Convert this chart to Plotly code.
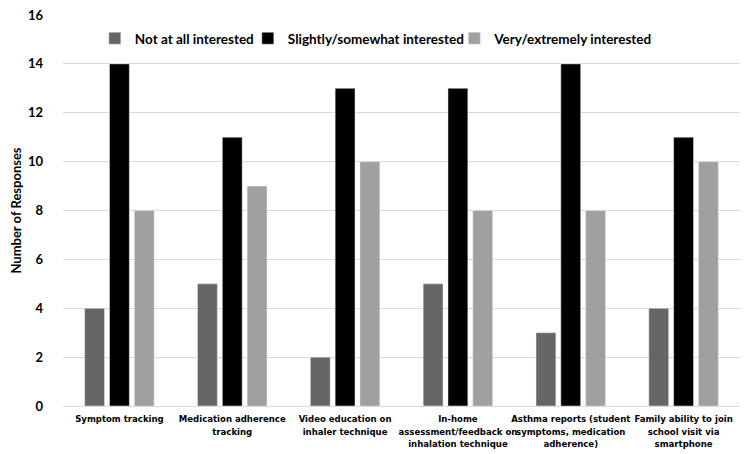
import plotly.graph_objects as go

categories = [
    "Symptom tracking",
    "Medication adherence<br>tracking",
    "Video education on<br>inhaler technique",
    "In-home<br>assessment/feedback on<br>inhalation technique",
    "Asthma reports (student<br>symptoms, medication<br>adherence)",
    "Family ability to join<br>school visit via<br>smartphone",
]
not_at_all = [4, 5, 2, 5, 3, 4]
slightly = [14, 11, 13, 13, 14, 11]
very = [8, 9, 10, 8, 8, 10]

series = [
    ("Not at all interested", not_at_all, "#666666", "legend", 0.047),
    ("Slightly/somewhat interested", slightly, "#000000", "legend2", 0.273),
    ("Very/extremely interested", very, "#a0a0a0", "legend3", 0.578),
]

fig = go.Figure()
for name, vals, col, leg, lx in series:
    fig.add_trace(go.Bar(x=categories, y=vals, name=name, marker_color=col,
                         legend=leg, showlegend=True))
    fig.update_layout({leg: dict(orientation="h", x=lx, xanchor="left", y=0.94, yanchor="middle",
                                 font=dict(size=13.5, family="Lato", weight="bold"),
                                 bgcolor="rgba(255,255,255,0)", itemwidth=30)})

# the page body has an 8px margin, so the figure is drawn 8px in from the top-left
fig.update_layout(
    width=742, height=446, showlegend=True,
    barmode="group", bargap=0.34, bargroupgap=0.2,
    plot_bgcolor="white", paper_bgcolor="white",
    margin=dict(l=55, r=10, t=7, b=48),
    font=dict(family="Lato, Liberation Sans", size=13, color="#000000"),
)
fig.update_yaxes(range=[0, 16], dtick=2, showgrid=True, gridcolor="#d9d9d9",
                 zeroline=False, ticks="", ticklabelstandoff=19, automargin=False,
                 ticklabeloverflow="allow",
                 tickfont=dict(family="Lato", size=13, weight="bold"),
                 title=dict(text="<b>Number of Responses</b>", font=dict(size=13, family="Lato"), standoff=10))
fig.update_xaxes(showline=True, linecolor="#d9d9d9", linewidth=1, ticks="",
                 tickangle=0, automargin=False, ticklabelstandoff=4,
                 tickfont=dict(family="DejaVu Sans Condensed", size=9.5, weight="bold"))

fig.write_html("out.html")
